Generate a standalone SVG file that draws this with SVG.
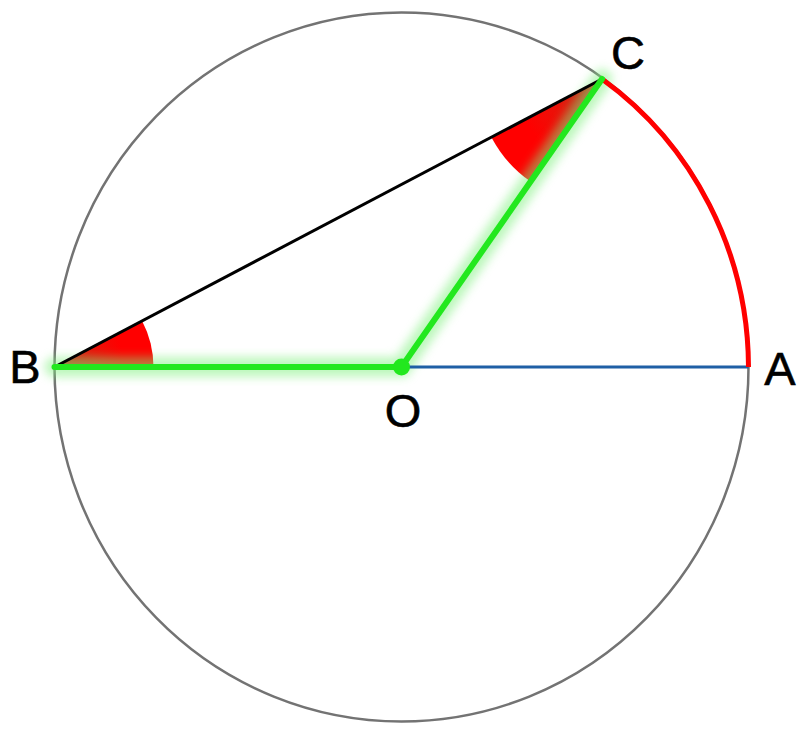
<svg xmlns="http://www.w3.org/2000/svg" width="811" height="736" viewBox="0 0 811 736">
  <defs>
    <style>
      .lbl { font-family: "Liberation Sans", Arial, sans-serif; font-size: 47px; fill: #000; text-anchor: middle; stroke: #000; stroke-width: 0.6; }
      .green { stroke: #22e81e; stroke-width: 6; stroke-linecap: round; fill: none; }
      .glow { stroke: #7cf07a; stroke-width: 20; stroke-linecap: round; fill: none; opacity: 0.5; }
    </style>
    <filter id="blur" x="-20%" y="-20%" width="140%" height="140%">
      <feGaussianBlur stdDeviation="5"/>
    </filter>
    <radialGradient id="gB" gradientUnits="userSpaceOnUse" cx="54.5" cy="367" r="99">
      <stop offset="0" stop-color="#b8301c"/>
      <stop offset="0.4" stop-color="#e8140a"/>
      <stop offset="0.7" stop-color="#ff0000"/>
    </radialGradient>
    <radialGradient id="gC" gradientUnits="userSpaceOnUse" cx="602" cy="79" r="125">
      <stop offset="0" stop-color="#b8301c"/>
      <stop offset="0.4" stop-color="#e8140a"/>
      <stop offset="0.7" stop-color="#ff0000"/>
    </radialGradient>
  </defs>
  <rect width="811" height="736" fill="#ffffff"/>

  <g id="angles">
    <path d="M 54.5 367 L 153.5 367 A 99 99 0 0 0 142.1 320.9 Z" fill="url(#gB)"/>
    <path d="M 602 79 L 491.4 137.2 A 125 125 0 0 0 530.6 181.6 Z" fill="url(#gC)"/>
  </g>

  <g id="circle">
    <ellipse cx="401.5" cy="367" rx="347" ry="354.5" fill="none" stroke="#737373" stroke-width="2.5"/>
  </g>

  <g id="connectors">
    <path d="M 54.5 367 L 401.5 367 L 602 79" class="glow" filter="url(#blur)"/>
    <line x1="401.5" y1="367" x2="748.5" y2="367" stroke="#1f5fa5" stroke-width="3"/>
    <line x1="54.5" y1="367" x2="602" y2="79" stroke="#000" stroke-width="3"/>
    <path d="M 748.5 367 A 347 354.5 0 0 0 602 79" fill="none" stroke="#ff0000" stroke-width="5"/>
    <path d="M 54.5 367 L 401.5 367 L 602 79" class="green"/>
  </g>

  <g id="O">
    <circle cx="401.5" cy="367" r="8.5" fill="#22e81e"/>
    <text class="lbl" x="403" y="427">O</text>
  </g>
  <g id="A">
    <text class="lbl" x="780" y="385">A</text>
  </g>
  <g id="B">
    <text class="lbl" x="25" y="383">B</text>
  </g>
  <g id="C">
    <text class="lbl" x="628" y="69">C</text>
  </g>
</svg>
